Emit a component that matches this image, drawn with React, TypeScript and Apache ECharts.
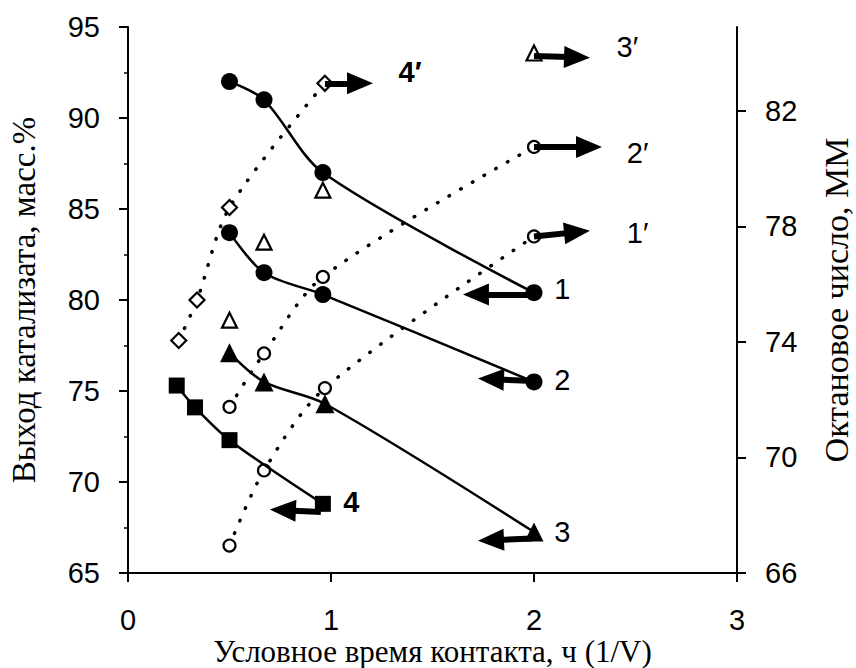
import React, { useEffect, useRef } from 'react';
import * as echarts from 'echarts';

// Left axis (yield, mass %) — solid curves with filled markers
const s1 = [[0.5, 92.0], [0.67, 91.0], [0.96, 87.0], [2.0, 80.4]];
const s2 = [[0.5, 83.7], [0.67, 81.5], [0.96, 80.3], [2.0, 75.5]];
const s3 = [[0.5, 77.1], [0.67, 75.5], [0.97, 74.3], [2.0, 67.25]];
const s4 = [[0.24, 75.3], [0.33, 74.1], [0.5, 72.3], [0.96, 68.8]];
// Right axis (octane number, MM) — dotted curves with open markers
const s1p = [[0.5, 66.95], [0.67, 69.55], [0.97, 72.4], [2.0, 77.65]];
const s2p = [[0.5, 71.75], [0.67, 73.6], [0.96, 76.25], [2.0, 80.75]];
const s3p = [[0.5, 74.75], [0.67, 77.45], [0.96, 79.25], [2.0, 84.0]];
const s4p = [[0.25, 74.05], [0.34, 75.45], [0.5, 78.65], [0.97, 82.95]];

// Arrow annotations [start, end] in data units (end = centre of arrowhead)
const leftArrows = [
  [[2.0, 80.3], [1.714, 80.3]],
  [[2.0, 75.55], [1.788, 75.65]],
  [[1.99, 66.9], [1.788, 66.8]],
  [[0.95, 68.35], [0.763, 68.45]],
];
const rightArrows = [
  [[0.97, 82.95], [1.143, 82.95]],
  [[2.0, 83.9], [2.212, 83.85]],
  [[2.0, 80.75], [2.271, 80.75]],
  [[2.0, 77.65], [2.212, 77.8]],
];
const leftLabels = [
  { name: '1', value: [2.14, 80.6] },
  { name: '2', value: [2.14, 75.6] },
  { name: '3', value: [2.14, 67.25] },
  { name: '4', value: [1.1, 68.9] },
];
const rightLabels = [
  { name: '4′', value: [1.39, 83.33] },
  { name: '3′', value: [2.46, 84.2] },
  { name: '2′', value: [2.51, 80.53] },
  { name: '1′', value: [2.51, 77.76] },
];

const xTitle = 'Условное время контакта, ч (1/V)';
const yLeftTitle = 'Выход катализата, масс.%';
const yRightTitle = 'Октановое число, ММ';

const BLACK = '#000';
const sans = 'Liberation Sans, Arial, sans-serif';
const serif = 'Liberation Serif, Times New Roman, serif';

function arrowLines(arr: number[][][]) {
  return arr.map(([a, b]) => [{ coord: a }, { coord: b }]);
}

function solid(name: string, data: number[][], symbol: string, size: number) {
  return {
    name,
    type: 'line',
    yAxisIndex: 0,
    data,
    symbol,
    symbolSize: size,
    smooth: 0.3,
    itemStyle: { color: BLACK },
    lineStyle: { color: BLACK, width: 2.5 },
    z: 5,
  };
}

function dotted(name: string, data: number[][], symbol: string, size: number, showLine = true) {
  return {
    name,
    type: 'line',
    yAxisIndex: 1,
    data,
    symbol,
    symbolSize: size,
    smooth: 0.3,
    showSymbol: true,
    itemStyle: { color: '#fff', borderColor: BLACK, borderWidth: 2.2 },
    lineStyle: { color: BLACK, width: showLine ? 3.5 : 0, type: [0.5, 13], cap: 'round', opacity: showLine ? 1 : 0 },
    z: 3,
  };
}

const labelStyle = (bold: boolean) => ({
  show: true,
  position: 'inside',
  formatter: '{b}',
  color: BLACK,
  opacity: 1,
  fontSize: 29,
  fontFamily: sans,
  fontWeight: bold ? 'bold' : 'normal',
});

const arrowMarkLine = (arr: number[][][]) => ({
  silent: true,
  symbol: ['none', 'triangle'],
  symbolSize: [22, 26],
  label: { show: false },
  lineStyle: { color: BLACK, width: 6, type: 'solid', opacity: 1 },
  data: arrowLines(arr),
});

const option = {
  animation: false,
  backgroundColor: '#fff',
  grid: { left: 128, right: 119, top: 27, bottom: 95, containLabel: false, outerBoundsMode: 'none' },
  xAxis: {
    type: 'value',
    min: 0,
    max: 3,
    interval: 1,
    name: xTitle,
    nameLocation: 'middle',
    nameGap: 63,
    nameMoveOverlap: false,
    nameTextStyle: { fontFamily: serif, fontSize: 31, color: BLACK },
    axisLine: { show: true, lineStyle: { color: BLACK, width: 2 } },
    axisTick: { show: true, length: 9, lineStyle: { color: BLACK, width: 2 } },
    axisLabel: { fontSize: 29, color: BLACK, margin: 32, fontFamily: sans },
    splitLine: { show: false },
  },
  yAxis: [
    {
      type: 'value',
      position: 'left',
      min: 65,
      max: 95,
      interval: 5,
      name: yLeftTitle,
      nameLocation: 'middle',
      nameGap: 88,
      nameMoveOverlap: false,
      nameTextStyle: { fontFamily: serif, fontSize: 33, color: BLACK },
      axisLine: { show: true, lineStyle: { color: BLACK, width: 2 } },
      axisTick: { show: true, length: 9, lineStyle: { color: BLACK, width: 2 } },
      minorTick: { show: true, splitNumber: 2, length: 4, lineStyle: { color: BLACK, width: 1.5 } },
      axisLabel: { fontSize: 29, color: BLACK, margin: 28, fontFamily: sans },
      splitLine: { show: false },
      minorSplitLine: { show: false },
    },
    {
      type: 'value',
      position: 'right',
      min: 66,
      max: 84.9,
      interval: 4,
      name: yRightTitle,
      nameLocation: 'middle',
      nameGap: 82,
      nameMoveOverlap: false,
      nameTextStyle: { fontFamily: serif, fontSize: 34, color: BLACK },
      axisLine: { show: true, lineStyle: { color: BLACK, width: 2 } },
      axisTick: { show: true, length: 9, lineStyle: { color: BLACK, width: 2 } },
      axisLabel: { fontSize: 29, color: BLACK, margin: 28, fontFamily: sans, showMaxLabel: false },
      splitLine: { show: false },
    },
  ],
  series: [
    dotted("1'", s1p, 'circle', 12),
    dotted("2'", s2p, 'circle', 12),
    dotted("3'", s3p, 'triangle', 15, false),
    { ...dotted("4'", s4p, 'diamond', 15), markLine: arrowMarkLine(rightArrows) },
    solid('1', s1, 'circle', 17),
    solid('2', s2, 'circle', 17),
    solid('3', s3, 'triangle', 19),
    { ...solid('4', s4, 'rect', 16), markLine: arrowMarkLine(leftArrows) },
    {
      name: 'labels-left',
      type: 'scatter',
      yAxisIndex: 0,
      symbolSize: 0,
      itemStyle: { color: 'transparent' },
      data: leftLabels.map((d) => ({ ...d, label: labelStyle(d.name === '4') })),
      label: labelStyle(false),
      silent: true,
      z: 10,
    },
    {
      name: 'labels-right',
      type: 'scatter',
      yAxisIndex: 1,
      symbolSize: 0,
      itemStyle: { color: 'transparent' },
      data: rightLabels.map((d) => ({ ...d, label: labelStyle(d.name === '4′') })),
      label: labelStyle(false),
      silent: true,
      z: 10,
    },
  ],
};

export default function App() {
  const ref = useRef<HTMLDivElement>(null);
  useEffect(() => {
    const chart = echarts.init(ref.current!, null, { renderer: 'svg' });
    chart.setOption(option as any);
    return () => chart.dispose();
  }, []);
  return (
    <div
      ref={ref}
      style={{ position: 'fixed', left: 0, top: 0, width: 856, height: 668, background: '#fff' }}
    />
  );
}
